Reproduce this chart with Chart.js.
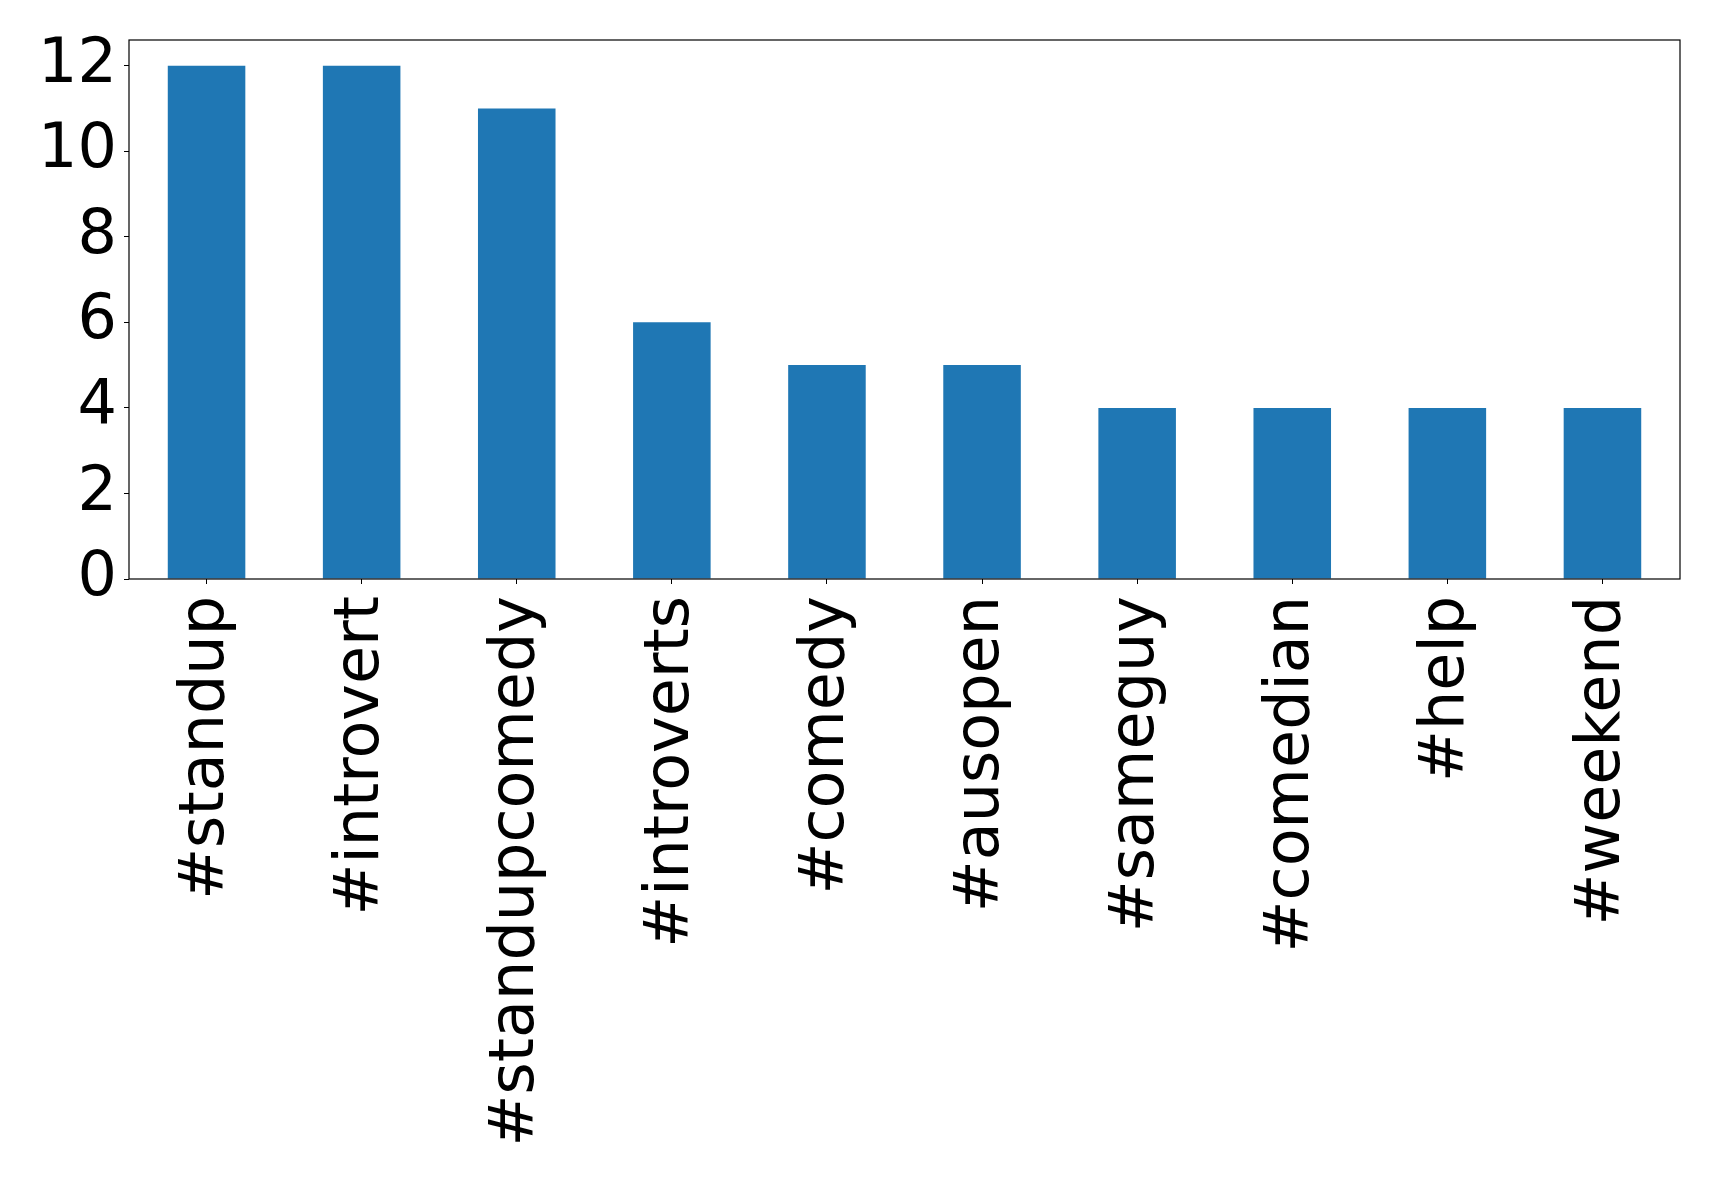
<!DOCTYPE html>
<html>
<head>
<meta charset="utf-8">
<script src="https://cdn.jsdelivr.net/npm/chart.js@4/dist/chart.umd.min.js"></script>
<style>
  html, body { margin: 0; padding: 0; background: #fff; }
  #wrap { width: 1719px; height: 1183px; }
</style>
</head>
<body>
<div id="wrap"><canvas id="grafico" width="1719" height="1183"></canvas></div>
<script>
const hashtags = ["#standup", "#introvert", "#standupcomedy", "#introverts", "#comedy",
  "#ausopen", "#sameguy", "#comedian", "#help", "#weekend"];
const cuentas = [12, 12, 11, 6, 5, 5, 4, 4, 4, 4];
const yTicks = [0, 2, 4, 6, 8, 10, 12];
const yMax = 12.6;

// caja completa alrededor del área del gráfico (estilo matplotlib)
const marco = {
  id: "marco",
  afterDraw(chart) {
    const { ctx, chartArea: a } = chart;
    ctx.save();
    ctx.strokeStyle = "#000";
    ctx.lineWidth = 1.2;
    ctx.strokeRect(a.left, a.top, a.right - a.left, a.bottom - a.top);
    ctx.restore();
  }
};

const fuente = { family: "'DejaVu Sans', sans-serif", size: 62 };

new Chart(document.getElementById("grafico").getContext("2d"), {
  type: "bar",
  data: {
    labels: hashtags,
    datasets: [{
      data: cuentas,
      backgroundColor: "#1f77b4",
      borderWidth: 0,
      barPercentage: 0.5,
      categoryPercentage: 1.0
    }]
  },
  options: {
    responsive: false,
    animation: false,
    layout: { padding: { top: 40, right: 39, left: 0, bottom: 0 } },
    plugins: { legend: { display: false }, tooltip: { enabled: false } },
    scales: {
      x: {
        offset: true,
        grid: { display: true, offset: false, drawOnChartArea: false, drawTicks: true, tickLength: 5, color: "#000" },
        border: { display: false },
        ticks: { color: "#000", font: fuente, minRotation: 90, maxRotation: 90, padding: 12, autoSkip: false },
        afterFit(scale) { scale.height = 604; }
      },
      y: {
        min: 0,
        max: yMax,
        grid: { display: true, drawOnChartArea: false, drawTicks: true, tickLength: 5, color: "#000" },
        border: { display: false },
        ticks: { color: "#000", font: { ...fuente, lineHeight: 1.0 }, padding: 7 },
        afterBuildTicks(scale) {
          scale.ticks = yTicks.map((v) => ({ value: v }));
        },
        afterFit(scale) {
          scale.width = 129;
          scale.paddingTop = 0;
        }
      }
    }
  },
  plugins: [marco]
});
</script>
</body>
</html>
